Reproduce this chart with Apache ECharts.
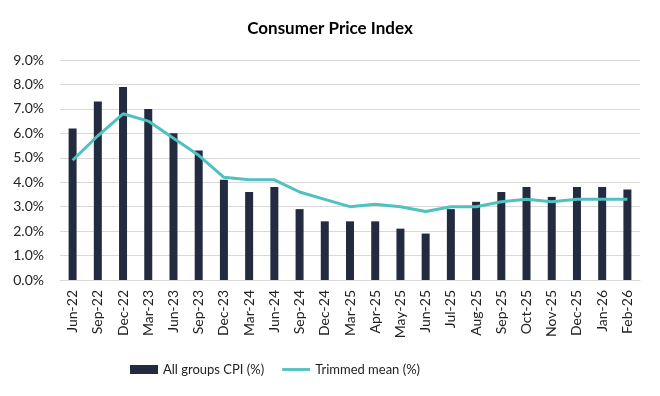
<!DOCTYPE html>
<html lang="en">
<head>
    <meta charset="UTF-8">
    <title>Consumer Price Index</title>
    <script src="https://cdn.jsdelivr.net/npm/echarts@6/dist/echarts.min.js"></script>
    <style>
        html, body { margin: 0; padding: 0; background: #fff; }
        #main { width: 660px; height: 396px; }
    </style>
</head>
<body>
<div id="main"></div>
<script>
    // 数据
    var categories = ['Jun-22','Sep-22','Dec-22','Mar-23','Jun-23','Sep-23','Dec-23','Mar-24','Jun-24','Sep-24','Dec-24',
        'Mar-25','Apr-25','May-25','Jun-25','Jul-25','Aug-25','Sep-25','Oct-25','Nov-25','Dec-25','Jan-26','Feb-26'];
    var cpiAll = [6.2, 7.3, 7.9, 7.0, 6.0, 5.3, 4.1, 3.6, 3.8, 2.9, 2.4,
        2.4, 2.4, 2.1, 1.9, 2.9, 3.2, 3.6, 3.8, 3.4, 3.8, 3.8, 3.7];
    var trimmedMean = [4.9, 5.9, 6.8, 6.5, 5.8, 5.1, 4.2, 4.1, 4.1, 3.6, 3.3,
        3.0, 3.1, 3.0, 2.8, 3.0, 3.0, 3.2, 3.3, 3.2, 3.3, 3.3, 3.3];

    var font = 'Lato';
    var myChart = echarts.init(document.getElementById('main'));
    var option = {
        animation: false,
        title: {
            text: 'Consumer Price Index',
            left: 'center',
            top: 15,
            textStyle: {fontFamily: font, fontSize: 17, fontWeight: 'bold', color: '#000'}
        },
        legend: {
            bottom: 15,
            left: 125,
            itemGap: 18,
            itemWidth: 28,
            itemHeight: 9,
            textStyle: {fontFamily: font, fontSize: 13, color: '#222'},
            data: [
                {name: 'All groups CPI (%)', icon: 'rect'},
                {name: 'Trimmed mean (%)', icon: 'path://M0,0 L30,0 L30,3 L0,3 Z'}
            ]
        },
        grid: {left: 60, right: 20, top: 60, bottom: 116},
        xAxis: {
            type: 'category',
            data: categories,
            axisTick: {show: false},
            axisLine: {lineStyle: {color: '#d9d9d9'}},
            axisLabel: {rotate: 90, interval: 0, fontFamily: font, fontSize: 14, color: '#222', margin: 10}
        },
        yAxis: {
            type: 'value',
            min: 0,
            max: 9,
            interval: 1,
            axisLine: {show: false},
            axisTick: {show: false},
            splitLine: {lineStyle: {color: '#d9d9d9'}},
            axisLabel: {
                fontFamily: font, fontSize: 14, color: '#222', margin: 16,
                formatter: function (v) { return v.toFixed(1) + '%'; }
            }
        },
        series: [
            {
                name: 'All groups CPI (%)',
                type: 'bar',
                data: cpiAll,
                barWidth: 8,
                itemStyle: {color: '#222b40'}
            },
            {
                name: 'Trimmed mean (%)',
                type: 'line',
                data: trimmedMean,
                symbol: 'none',
                lineStyle: {color: '#4fc1bf', width: 3},
                itemStyle: {color: '#4fc1bf'}
            }
        ]
    };
    myChart.setOption(option);
</script>
</body>
</html>
